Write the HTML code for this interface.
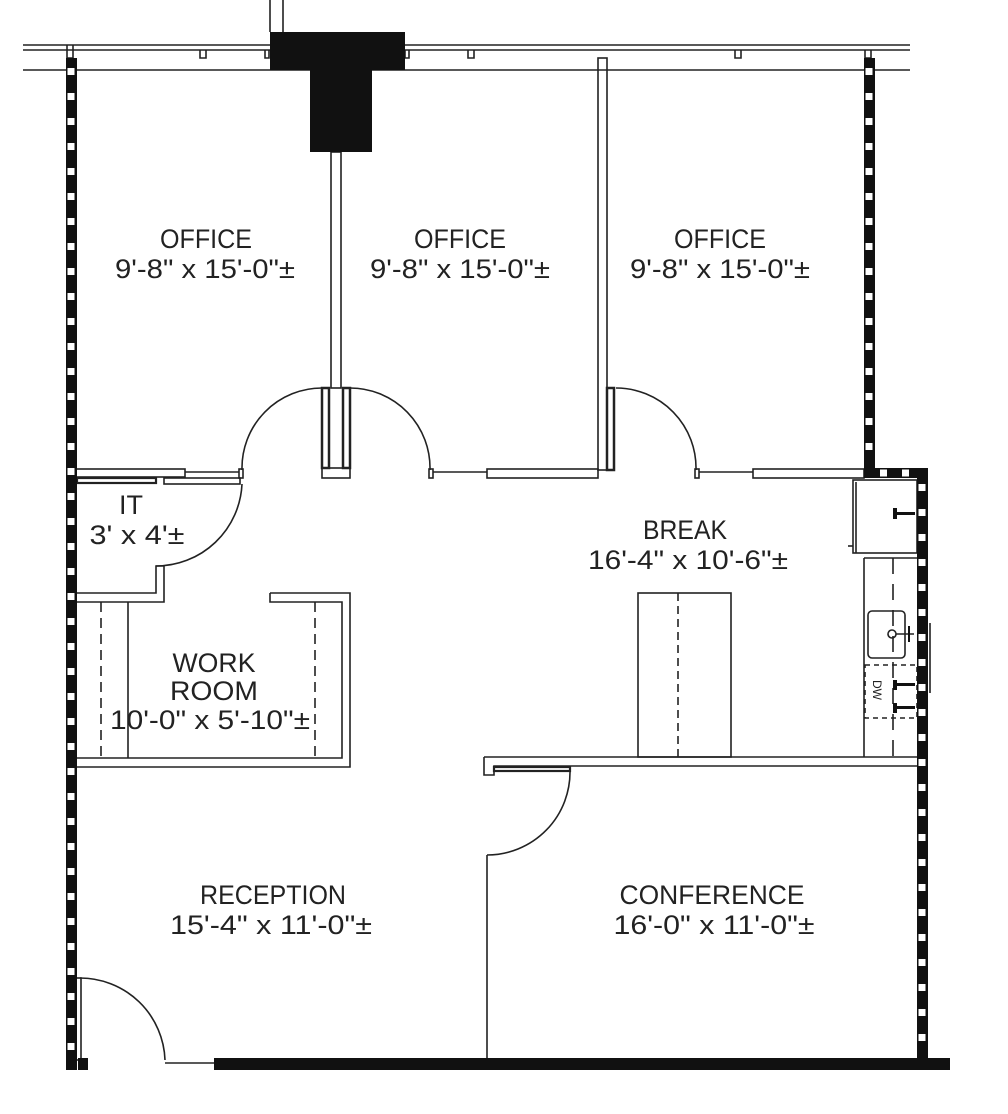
<!DOCTYPE html>
<html><head><meta charset="utf-8"><style>
html,body{margin:0;padding:0;background:#fff;}
svg{display:block}
text{font-family:"Liberation Sans",sans-serif;font-size:27px;fill:#222;text-anchor:middle}
</style></head><body>
<svg width="1008" height="1114" viewBox="0 0 1008 1114" xmlns="http://www.w3.org/2000/svg">
<g fill="none" stroke="#222" stroke-width="1.6">
<line x1="23" y1="45" x2="910" y2="45"/>
<line x1="23" y1="50" x2="910" y2="50"/>
<line x1="23" y1="70" x2="910" y2="70"/>
<line x1="270" y1="0" x2="270" y2="32"/>
<line x1="283" y1="0" x2="283" y2="32"/>
<path d="M67 45v13h6v-13M200 50v8h6v-8M265 50v8h4v-8M405 50v8h4v-8M468 50v8h6v-8M735 50v8h6v-8M865 50v8h6v-8"/>
<rect x="331" y="152" width="10" height="236"/>
<rect x="598" y="58" width="9" height="412"/>
<rect x="322" y="388" width="7" height="80" stroke-width="2.5"/>
<rect x="343" y="388" width="7" height="80" stroke-width="2.5"/>
<rect x="322" y="468" width="28" height="10"/>
<path d="M242 470 A80 80 0 0 1 322 388"/>
<path d="M350 388 A80 80 0 0 1 430 470"/>
<rect x="239" y="469" width="4" height="9"/>
<rect x="429" y="469" width="4" height="9"/>
<line x1="433" y1="472" x2="487" y2="472"/>
<rect x="487" y="469" width="111" height="9"/>
<rect x="607" y="388" width="7" height="82" stroke-width="2.5"/>
<path d="M616 388 A80 80 0 0 1 696 470"/>
<rect x="695" y="469" width="4" height="9"/>
<line x1="699" y1="472" x2="753" y2="472"/>
<rect x="753" y="469" width="111" height="9"/>
<rect x="76" y="469" width="109" height="8"/>
<line x1="185" y1="472" x2="239" y2="472"/>
<rect x="164" y="478" width="76" height="6"/>
<rect x="77" y="478" width="79" height="5" stroke-width="2.2"/>
<path d="M242 484 A86 86 0 0 1 156 566"/>
<path d="M76 593h80v-27h8v36h-88"/>
<path d="M270 593h80v174h-274M270 593v9h72v156h-266"/>
<line x1="128" y1="602" x2="128" y2="758"/>
<line x1="101" y1="602" x2="101" y2="758" stroke-dasharray="10 6"/>
<line x1="315" y1="602" x2="315" y2="758" stroke-dasharray="10 6"/>
<path d="M484 757h433M484 757v18h10v-9h423"/>
<rect x="494" y="767" width="76" height="4" stroke-width="2.2"/>
<path d="M570 770 A83 83 0 0 1 487 855"/>
<line x1="487" y1="855" x2="487" y2="1058"/>
<rect x="75" y="978" width="6" height="82"/>
<path d="M80 978 A85 85 0 0 1 165 1060"/>
<line x1="165" y1="1063" x2="214" y2="1063"/>
<rect x="853" y="480" width="64" height="73"/>
<line x1="856" y1="482" x2="856" y2="553"/>
<line x1="848" y1="546" x2="853" y2="546"/>
<path d="M864 558h53M864 558v199"/>
<line x1="893" y1="558" x2="893" y2="757" stroke-dasharray="16 10"/>
<rect x="868" y="611" width="37" height="47" rx="4"/>
<circle cx="892" cy="634" r="4"/>
<line x1="896" y1="634" x2="914" y2="634"/>
<rect x="865" y="665" width="52" height="53" stroke-dasharray="5 4"/>
<line x1="930" y1="623" x2="930" y2="693"/>
<rect x="638" y="593" width="93" height="164"/>
<line x1="678" y1="593" x2="678" y2="757" stroke-dasharray="8 5"/>
</g>
<text x="873" y="690" style="font-size:12px" transform="rotate(90 873 690)">DW</text>
<g fill="#111">
<rect x="270" y="32" width="135" height="38"/>
<rect x="310" y="70" width="62" height="82"/>
<rect x="66" y="58" width="11" height="1012"/>
<rect x="864" y="58" width="11" height="420"/>
<rect x="864" y="468" width="64" height="10"/>
<rect x="917" y="468" width="11" height="592"/>
<rect x="214" y="1058" width="736" height="12"/>
<rect x="78" y="1058" width="10" height="12"/>
<path d="M893 512h22v3h-22zM893 508h4v11h-4zM893 683h22v3h-22zM893 680h4v10h-4zM893 706h22v3h-22zM893 703h4v10h-4zM908 626h2v16h-2z"/>
</g>
<g stroke="#fff" stroke-width="7">
<line x1="71" y1="68" x2="71" y2="1056" stroke-dasharray="7 18"/>
<line x1="869" y1="68" x2="869" y2="462" stroke-dasharray="7 18"/>
<line x1="922" y1="484" x2="922" y2="1052" stroke-dasharray="7 18"/>
<line x1="880" y1="473" x2="916" y2="473" stroke-dasharray="7 15"/>
</g>
<text x="206" y="248" textLength="92" lengthAdjust="spacingAndGlyphs">OFFICE</text>
<text x="205" y="278" textLength="180" lengthAdjust="spacingAndGlyphs">9'-8" x 15'-0"±</text>
<text x="460" y="248" textLength="92" lengthAdjust="spacingAndGlyphs">OFFICE</text>
<text x="460" y="278" textLength="180" lengthAdjust="spacingAndGlyphs">9'-8" x 15'-0"±</text>
<text x="720" y="248" textLength="92" lengthAdjust="spacingAndGlyphs">OFFICE</text>
<text x="720" y="278" textLength="180" lengthAdjust="spacingAndGlyphs">9'-8" x 15'-0"±</text>
<text x="131" y="514">IT</text>
<text x="137" y="544" textLength="95" lengthAdjust="spacingAndGlyphs">3' x 4'±</text>
<text x="685" y="539" textLength="84" lengthAdjust="spacingAndGlyphs">BREAK</text>
<text x="688" y="569" textLength="200" lengthAdjust="spacingAndGlyphs">16'-4" x 10'-6"±</text>
<text x="214" y="672" textLength="83" lengthAdjust="spacingAndGlyphs">WORK</text>
<text x="214" y="700" textLength="88" lengthAdjust="spacingAndGlyphs">ROOM</text>
<text x="210" y="729" textLength="200" lengthAdjust="spacingAndGlyphs">10'-0" x 5'-10"±</text>
<text x="273" y="904" textLength="146" lengthAdjust="spacingAndGlyphs">RECEPTION</text>
<text x="271" y="934" textLength="202" lengthAdjust="spacingAndGlyphs">15'-4" x 11'-0"±</text>
<text x="712" y="904" textLength="185" lengthAdjust="spacingAndGlyphs">CONFERENCE</text>
<text x="714" y="934" textLength="201" lengthAdjust="spacingAndGlyphs">16'-0" x 11'-0"±</text>
</svg>
</body></html>
